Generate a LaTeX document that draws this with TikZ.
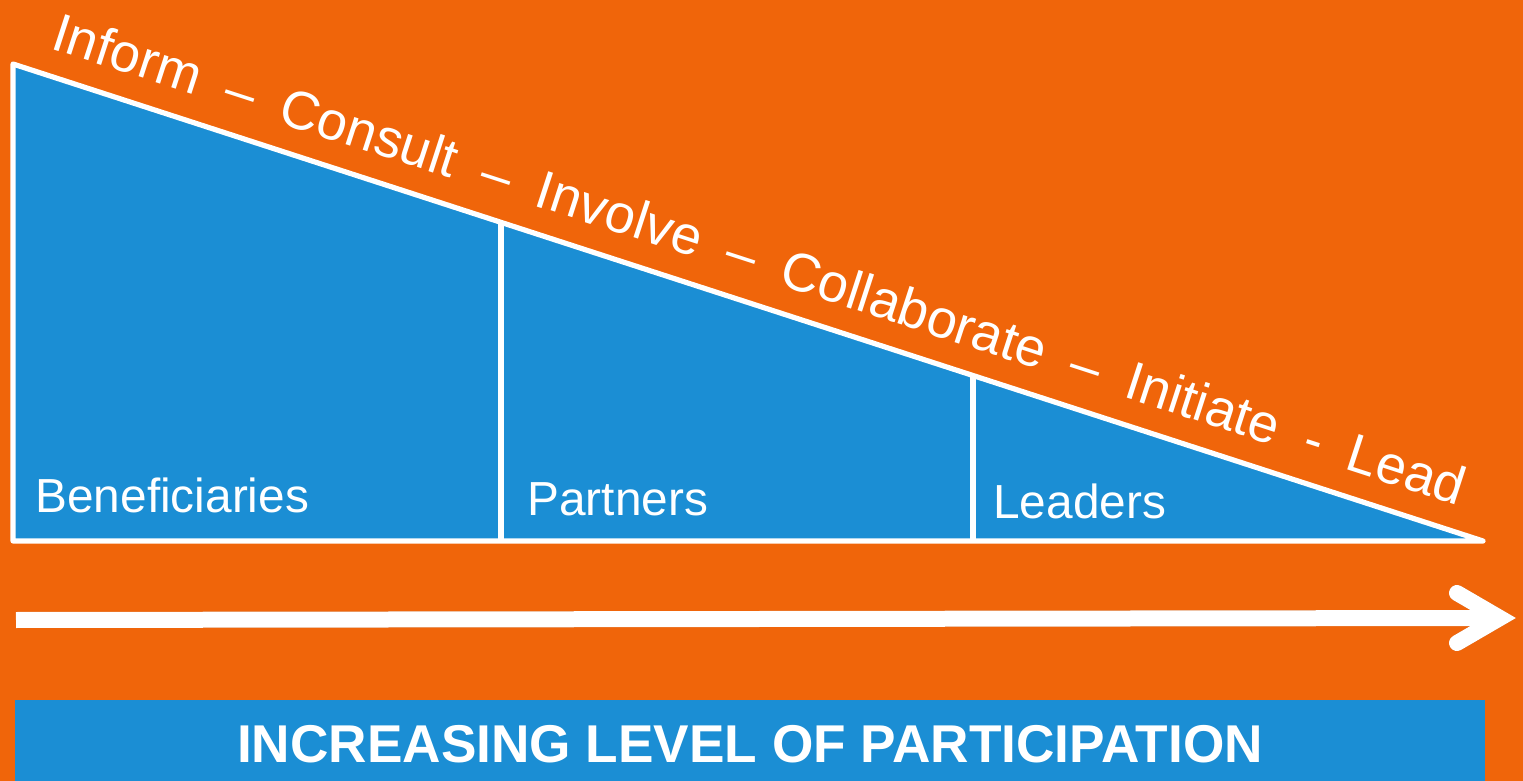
\documentclass[tikz,border=0pt]{standalone}
\usepackage{fontspec}
\setmainfont{Liberation Sans}
\definecolor{bgorange}{RGB}{240,101,10}
\definecolor{tblue}{RGB}{27,142,212}
\newcommand\lvlsep{\hspace{0.52em}–\hspace{0.52em}}
\newcommand\lvlhyph{\hspace{0.52em}-\hspace{0.52em}}
\begin{document}
\begin{tikzpicture}[x=0.5pt,y=-0.5pt,
  wline/.style={draw=white,line width=2.6pt,line join=round,line cap=round},
  lbl/.style={text=white,font=\fontsize{23.9}{28}\selectfont,anchor=base west,inner sep=0pt},
  slopetext/.style={text=white,font=\fontsize{27}{32}\selectfont,anchor=base west,inner sep=0pt,rotate=-18.0},
  titletext/.style={text=white,font=\fontsize{26.6}{32}\selectfont\bfseries,anchor=base,inner sep=0pt},
  bigarrow/.style={draw=white,line width=8pt},
  arrowshadow/.style={draw=bgorange!55!black,line width=8pt,opacity=0.45}]
\fill[bgorange] (0,0) rectangle (1523,781);
\useasboundingbox (0,0) rectangle (1523,781);
% triangle
\coordinate (tl) at (13,64);
\coordinate (bl) at (13,541);
\coordinate (br) at (1483,541);
\filldraw[fill=tblue,wline] (tl) -- (bl) -- (br) -- cycle;
% dividers
\coordinate (d1t) at (501,222);
\coordinate (d1b) at (501,541);
\coordinate (d2t) at (973,377);
\coordinate (d2b) at (973,541);
\draw[wline,line cap=butt] (d1t) -- (d1b);
\draw[wline,line cap=butt] (d2t) -- (d2b);
% labels
\node[lbl] (ben) at (35,512) {Beneficiaries};
\node[lbl] (par) at (527,515) {Partners};
\node[lbl] (lea) at (993,518) {Leaders};
% sloped text
\node[slopetext] (levels) at (49,48) {Inform\lvlsep Consult\lvlsep Involve\lvlsep Collaborate\lvlsep Initiate\lvlhyph Lead};
% arrow
\coordinate (as) at (16,620);
\coordinate (at) at (1500,618);
\coordinate (au) at (1457,593);
\coordinate (ad) at (1457,643);
\begin{scope}[shift={(2,5)}]
\draw[arrowshadow] (as) -- (at);
\draw[arrowshadow,line cap=round,line join=miter] (au) -- (at) -- (ad);
\end{scope}
\draw[bigarrow] (as) -- (at);
\draw[bigarrow,line cap=round,line join=miter] (au) -- (at) -- (ad);
% title bar
\fill[tblue] (15,700) rectangle (1485,781);
\node[titletext] (title) at (750,762) {INCREASING LEVEL OF PARTICIPATION};
\end{tikzpicture}
\end{document}
